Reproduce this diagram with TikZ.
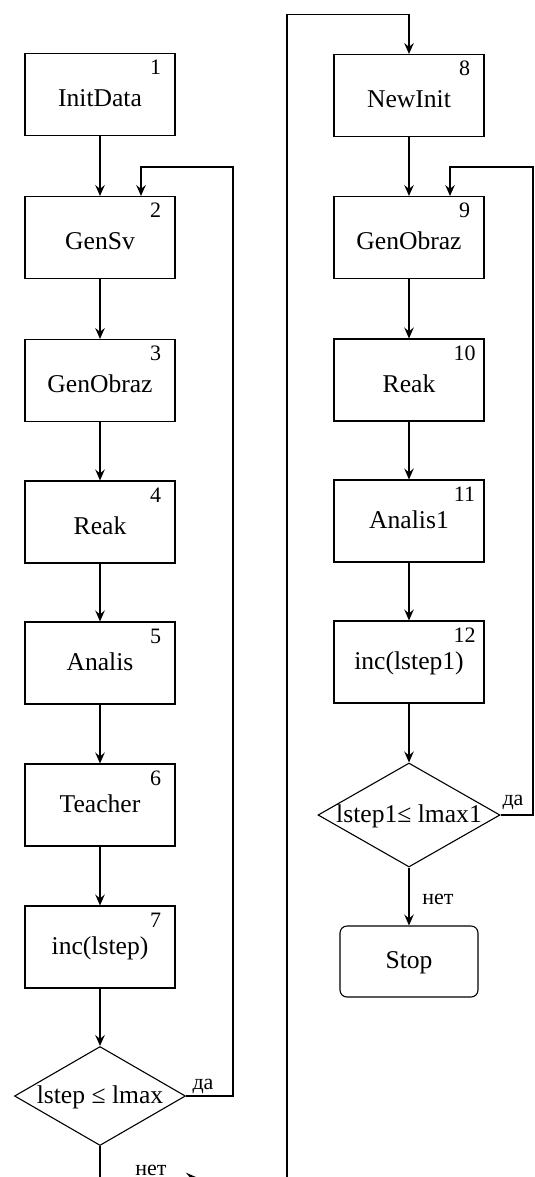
\documentclass[tikz,border=0pt]{standalone}
\usepackage{fontspec}
\setmainfont{Liberation Serif}
\usetikzlibrary{shapes.geometric,arrows.meta}
\newcommand\bxfont{\fontsize{12.8}{15}\selectfont}
\newcommand\numfont{\fontsize{11}{13}\selectfont}
\newcommand\ansfont{\fontsize{11}{13}\selectfont}
\begin{document}
\begin{tikzpicture}[x=0.5pt, y=-0.5pt, line width=0.55pt,
  every node/.style={inner sep=0pt},
  proc/.style={draw, rectangle, minimum width=75pt, minimum height=41pt,
    font=\bxfont, text height=9.8pt, text depth=2.4pt},
  low/.style={text height=14.8pt},
  stopbox/.style={proc, rounded corners=3.5pt, minimum width=69pt, minimum height=35.5pt},
  decide/.style={draw, diamond, aspect=1.75, inner sep=-3pt, font=\bxfont,
    text height=9.8pt, text depth=2.4pt},
  num/.style={font=\numfont},
  ans/.style={font=\ansfont, anchor=base},
  arr/.style={-{Stealth[length=5.5pt,width=4.8pt,inset=2pt]}},
]
\useasboundingbox (0,0) rectangle (535,1177);

% left column: training loop
\node[proc,low] (b1) at (100,94.5) {InitData};
\node[proc,low] (b2) at (100,237.5) {GenSv};
\node[proc,low] (b3) at (100,380.5) {GenObraz};
\node[proc,low] (b4) at (100,522) {Reak};
\node[proc] (b5) at (100,663) {Analis};
\node[proc] (b6) at (100,805) {Teacher};
\node[proc] (b7) at (100,947) {inc(lstep)};
\node[decide, minimum width=85.5pt, minimum height=49.5pt] (d1) at (100,1096) {lstep ≤ lmax};

% right column: test loop
\node[proc,low] (b8) at (409,95.5) {NewInit};
\node[proc,low] (b9) at (409,237.5) {GenObraz};
\node[proc,low] (b10) at (409,380) {Reak};
\node[proc] (b11) at (409,521) {Analis1};
\node[proc] (b12) at (409,662) {inc(lstep1)};
\node[decide, minimum width=91pt, minimum height=52pt] (d2) at (409,815) {lstep1≤ lmax1};
\node[stopbox] (stop) at (409,961.5) {Stop};

% block numbers
\foreach \b/\n in {b1/1,b2/2,b3/3,b4/4,b5/5,b6/6,b7/7,b8/8,b9/9,b10/10,b11/11,b12/12}
  \node[num] (n\n) at ([xshift=-10pt,yshift=-7.3pt]\b.north east) {\n};

% straight flow
\foreach \a/\c in {b1/b2,b2/b3,b3/b4,b4/b5,b5/b6,b6/b7,b7/d1,b8/b9,b9/b10,b10/b11,b11/b12,b12/d2,d2/stop}
  \draw[arr] (\a) -- (\c);

% loop-backs
\coordinate (fbL) at (233,167);
\coordinate (fbR) at (533,167);
\draw[arr] (d1.east) -| (fbL) -| ([xshift=20.5pt]b2.north);
\draw[arr] (d2.east) -| (fbR) -| ([xshift=20.5pt]b9.north);

% exit of the first loop into the second part
\coordinate (lowL) at (100,1177.5);
\coordinate (midA) at (197,1177.5);
\coordinate (lowR) at (287,1177.5);
\coordinate (topR) at (287,14.5);
\draw (d1.south) -- (lowL) -- (lowR) -- (topR);
\draw[arr] (lowL) -- (midA);
\draw[arr] (topR) -| (b8.north);

% branch labels
\node[ans] (yes1) at (203,1089) {да};
\node[ans] (no1) at (151,1175) {нет};
\node[ans] (yes2) at (513,805) {да};
\node[ans] (no2) at (438,904) {нет};
\end{tikzpicture}
\end{document}
